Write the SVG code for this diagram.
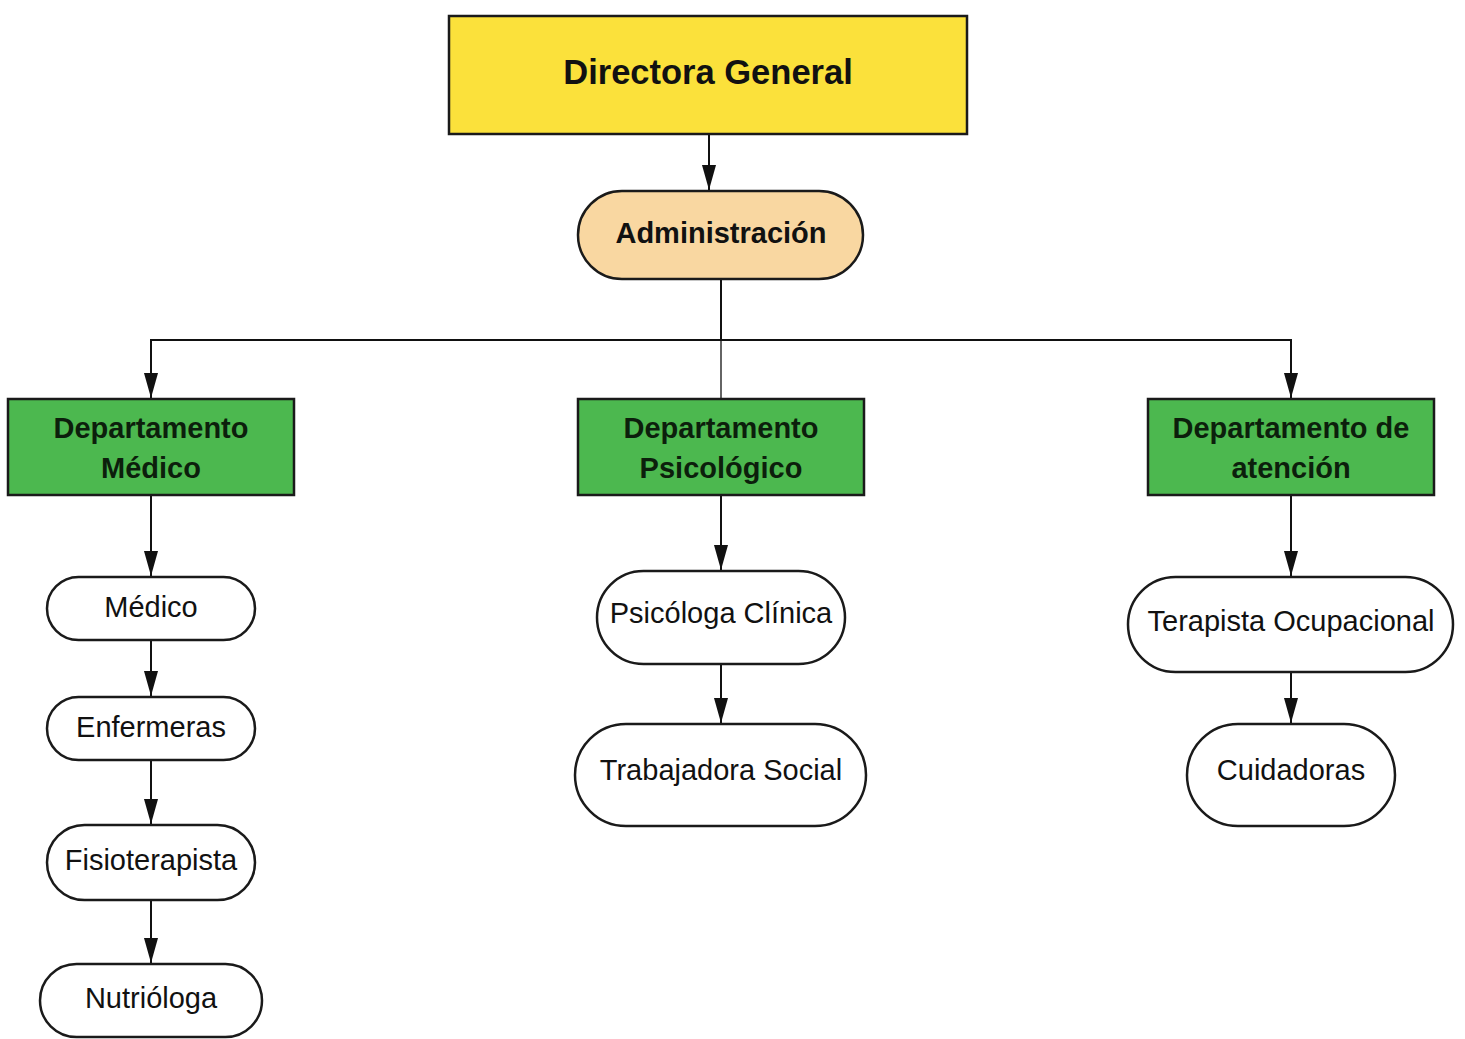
<svg xmlns="http://www.w3.org/2000/svg" width="1465" height="1039" viewBox="0 0 1465 1039">
<defs>
<style>
.box{stroke:#1a1a1a;stroke-width:2.5}
.dir{fill:#FBE13B}
.adm{fill:#F9D7A1}
.dept{fill:#4CB84F}
.pill{fill:#ffffff}
.tb{font-family:"Liberation Sans",Arial,sans-serif;font-weight:bold;fill:#111;text-anchor:middle}
.tr{font-family:"Liberation Sans",Arial,sans-serif;font-size:29px;fill:#111;text-anchor:middle}
.dt{font-size:29px;fill:#0c1f0c}
.con{stroke:#111;stroke-width:2;fill:none}
</style>
<marker id="arr" markerUnits="userSpaceOnUse" markerWidth="26" markerHeight="16" refX="25" refY="8" orient="auto" viewBox="0 0 26 16">
<path d="M0,1 L25,8 L0,15 Z" fill="#111"/>
</marker>
</defs>
<rect width="1465" height="1039" fill="#ffffff"/>
<g id="connectors">
<line class="con" x1="709" y1="134" x2="709" y2="190" marker-end="url(#arr)"/>
<polyline class="con" points="721,279 721,340 151,340 151,398" marker-end="url(#arr)"/>
<polyline class="con" points="721,340 1291,340 1291,398" marker-end="url(#arr)"/>
<line x1="721" y1="340" x2="721" y2="399" stroke="#111" stroke-width="1.3"/>
<line class="con" x1="151" y1="495" x2="151" y2="576" marker-end="url(#arr)"/>
<line class="con" x1="151" y1="640" x2="151" y2="696" marker-end="url(#arr)"/>
<line class="con" x1="151" y1="760" x2="151" y2="824" marker-end="url(#arr)"/>
<line class="con" x1="151" y1="900" x2="151" y2="963" marker-end="url(#arr)"/>
<line class="con" x1="721" y1="495" x2="721" y2="570" marker-end="url(#arr)"/>
<line class="con" x1="721" y1="664" x2="721" y2="723" marker-end="url(#arr)"/>
<line class="con" x1="1291" y1="495" x2="1291" y2="576" marker-end="url(#arr)"/>
<line class="con" x1="1291" y1="672" x2="1291" y2="723" marker-end="url(#arr)"/>
</g>
<g id="directora">
<rect class="box dir" x="449" y="16" width="518" height="118"/>
<text class="tb" x="708" y="84" font-size="34.5">Directora General</text>
</g>
<g id="administracion">
<rect class="box adm" x="578" y="191" width="285" height="88" rx="44"/>
<text class="tb" x="721" y="243" font-size="29">Administración</text>
</g>
<g id="dept-medico">
<rect class="box dept" x="8" y="399" width="286" height="96"/>
<text class="tb dt" x="151" y="438">Departamento</text>
<text class="tb dt" x="151" y="478">Médico</text>
</g>
<g id="dept-psicologico">
<rect class="box dept" x="578" y="399" width="286" height="96"/>
<text class="tb dt" x="721" y="438">Departamento</text>
<text class="tb dt" x="721" y="478">Psicológico</text>
</g>
<g id="dept-atencion">
<rect class="box dept" x="1148" y="399" width="286" height="96"/>
<text class="tb dt" x="1291" y="438">Departamento de</text>
<text class="tb dt" x="1291" y="478">atención</text>
</g>
<g id="medico">
<rect class="box pill" x="47" y="577" width="208" height="63" rx="31.5"/>
<text class="tr" x="151" y="617">Médico</text>
</g>
<g id="enfermeras">
<rect class="box pill" x="47" y="697" width="208" height="63" rx="31.5"/>
<text class="tr" x="151" y="737">Enfermeras</text>
</g>
<g id="fisioterapista">
<rect class="box pill" x="47" y="825" width="208" height="75" rx="37.5"/>
<text class="tr" x="151" y="870">Fisioterapista</text>
</g>
<g id="nutriologa">
<rect class="box pill" x="40" y="964" width="222" height="73" rx="36.5"/>
<text class="tr" x="151" y="1008">Nutrióloga</text>
</g>
<g id="psicologa">
<rect class="box pill" x="597" y="571" width="248" height="93" rx="46.5"/>
<text class="tr" x="721" y="623">Psicóloga Clínica</text>
</g>
<g id="trabajadora">
<rect class="box pill" x="575" y="724" width="291" height="102" rx="51"/>
<text class="tr" x="721" y="780">Trabajadora Social</text>
</g>
<g id="terapista">
<rect class="box pill" x="1128" y="577" width="325" height="95" rx="47.5"/>
<text class="tr" x="1291" y="631">Terapista Ocupacional</text>
</g>
<g id="cuidadoras">
<rect class="box pill" x="1187" y="724" width="208" height="102" rx="51"/>
<text class="tr" x="1291" y="780">Cuidadoras</text>
</g>
</svg>
